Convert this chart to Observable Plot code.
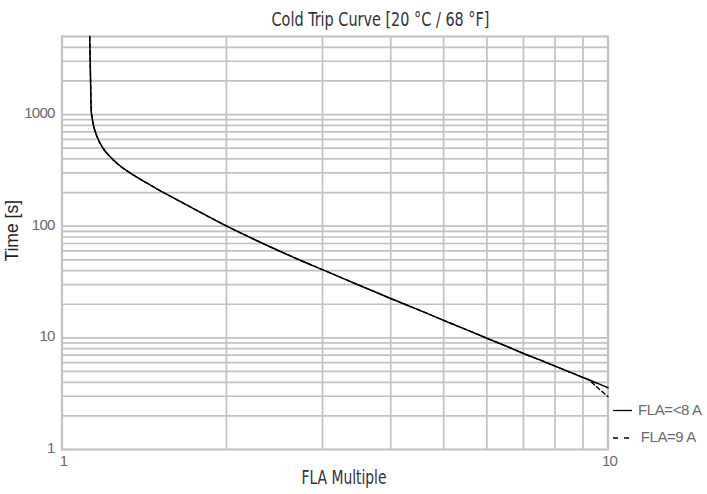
<!DOCTYPE html>
<html>
<head>
<meta charset="utf-8">
<script src="https://cdn.jsdelivr.net/npm/d3@7"></script>
<script src="https://cdn.jsdelivr.net/npm/@observablehq/plot@0.6"></script>
<style>
  html, body { margin: 0; padding: 0; background: #fff; }
  #wrap { position: relative; width: 707px; height: 494px; }
  #wrap svg.plot-svg text { letter-spacing: -0.8px; }
  #overlay { position: absolute; left: 0; top: 0; pointer-events: none; }
</style>
</head>
<body>
<div id="wrap"></div>
<script>
// ---- data ----
const fla = [1.124,1.128,1.131,1.136,1.144,1.16,1.185,1.218,1.262,1.335,1.432,1.515,1.648,1.8,2,2.25,2.5,2.75,3,3.5,4,4.5,5,5.5,6,6.5,7,7.5,8,8.5,9,9.2,9.6,10];
const timeLt8A = [5000,2030,1093,920,774,630,512,431,364,298,243,207,166,131.8,100.5,76,60,48.8,40.8,29.6,22.5,17.8,14.35,11.85,9.92,8.45,7.25,6.35,5.58,4.95,4.42,4.23,3.89,3.57];
const time9A   = [5000,2030,1093,920,774,630,512,431,364,298,243,207,166,131.8,100.5,76,60,48.8,40.8,29.6,22.5,17.8,14.35,11.85,9.92,8.45,7.25,6.35,5.58,4.95,4.42,4.23,3.53,2.98];
const seriesNames = ["FLA=<8 A", "FLA=9 A"];
const xTicks = [1, 10];
const yTicks = [1, 10, 100, 1000];
const xGrid = [2, 3, 4, 5, 6, 7, 8, 9];
const yGrid = [2,3,4,5,6,7,8,9,10,20,30,40,50,60,70,80,90,100,200,300,400,500,600,700,800,900,1000,2000,3000,4000];
const titleText = "Cold Trip Curve [20 °C / 68 °F]";
const xLabel = "FLA Multiple";
const yLabel = "Time [s]";

const rowsSolid = fla.map((x, i) => ({x, t: timeLt8A[i], s: seriesNames[0]}));
const rowsDashed = fla.map((x, i) => ({x, t: time9A[i], s: seriesNames[1]}));

const gridColor = "#c2c2c2";

const chart = Plot.plot({
  width: 707,
  height: 494,
  marginTop: 36,
  marginBottom: 45,
  marginLeft: 61.5,
  marginRight: 99.5,
  x: {type: "log", domain: [1, 10]},
  y: {type: "log", domain: [1, 5000]},
  style: {fontFamily: "'Liberation Sans', Arial, sans-serif", fontSize: "15px", color: "#6a6a6a", background: "#fff"},
  marks: [
    Plot.ruleY(yGrid, {stroke: gridColor, strokeWidth: 1.7}),
    Plot.ruleX(xGrid, {stroke: gridColor, strokeWidth: 1.7}),
    Plot.frame({stroke: gridColor, strokeWidth: 2.2}),
    Plot.line(rowsDashed, {x: "x", y: "t", stroke: "#000", strokeWidth: 1.4, strokeDasharray: "4,3", curve: "monotone-x"}),
    Plot.line(rowsSolid, {x: "x", y: "t", stroke: "#000", strokeWidth: 1.5, curve: "monotone-x"}),
    Plot.axisX({ticks: xTicks, tickSize: 0, tickPadding: 6, tickFormat: d => String(d), label: null, fill: "#6a6a6a", dx: 1.5}),
    Plot.axisY({ticks: yTicks, tickSize: 0, tickPadding: 7.5, tickFormat: d => String(d), label: null, fill: "#6a6a6a", dy: -1.5})
  ]
});
chart.classList.add("plot-svg");
document.getElementById("wrap").appendChild(chart);

// ---- overlay: title, axis labels, legend ----
const ov = d3.select("#wrap").append("svg")
  .attr("id", "overlay").attr("width", 707).attr("height", 494);

const condensed = "'Liberation Sans Narrow', 'DejaVu Sans Condensed', Roboto, sans-serif";
ov.append("text")
  .attr("x", 271.5).attr("y", 25.5)
  .attr("font-family", condensed).attr("font-size", 20).attr("fill", "#333")
  .attr("textLength", 218).attr("lengthAdjust", "spacingAndGlyphs")
  .text(titleText);

ov.append("text")
  .attr("x", 301.5).attr("y", 483.5)
  .attr("font-family", condensed).attr("font-size", 20).attr("fill", "#333")
  .attr("textLength", 85).attr("lengthAdjust", "spacingAndGlyphs")
  .text(xLabel);

ov.append("text")
  .attr("transform", "translate(17.5,230.8) rotate(-90)")
  .attr("text-anchor", "middle")
  .attr("font-family", "'Liberation Sans', Arial, sans-serif").attr("font-size", 17.5).attr("fill", "#222")
  .text(yLabel);

const legend = [
  {name: seriesNames[0], dash: null, lx0: 613, lx1: 632, ly: 410.5, tx: 638, ty: 414.5},
  {name: seriesNames[1], dash: "5,6", lx0: 613, lx1: 630, ly: 438, tx: 640.7, ty: 442}
];
for (const l of legend) {
  const ln = ov.append("line").attr("x1", l.lx0).attr("x2", l.lx1).attr("y1", l.ly).attr("y2", l.ly)
    .attr("stroke", "#000").attr("stroke-width", 1.3);
  if (l.dash) ln.attr("stroke-dasharray", l.dash);
  ov.append("text").attr("x", l.tx).attr("y", l.ty)
    .attr("font-family", "'Liberation Sans', Arial, sans-serif").attr("font-size", 15)
    .attr("letter-spacing", "-0.4px").attr("fill", "#6a6a6a")
    .text(l.name);
}
</script>
</body>
</html>
